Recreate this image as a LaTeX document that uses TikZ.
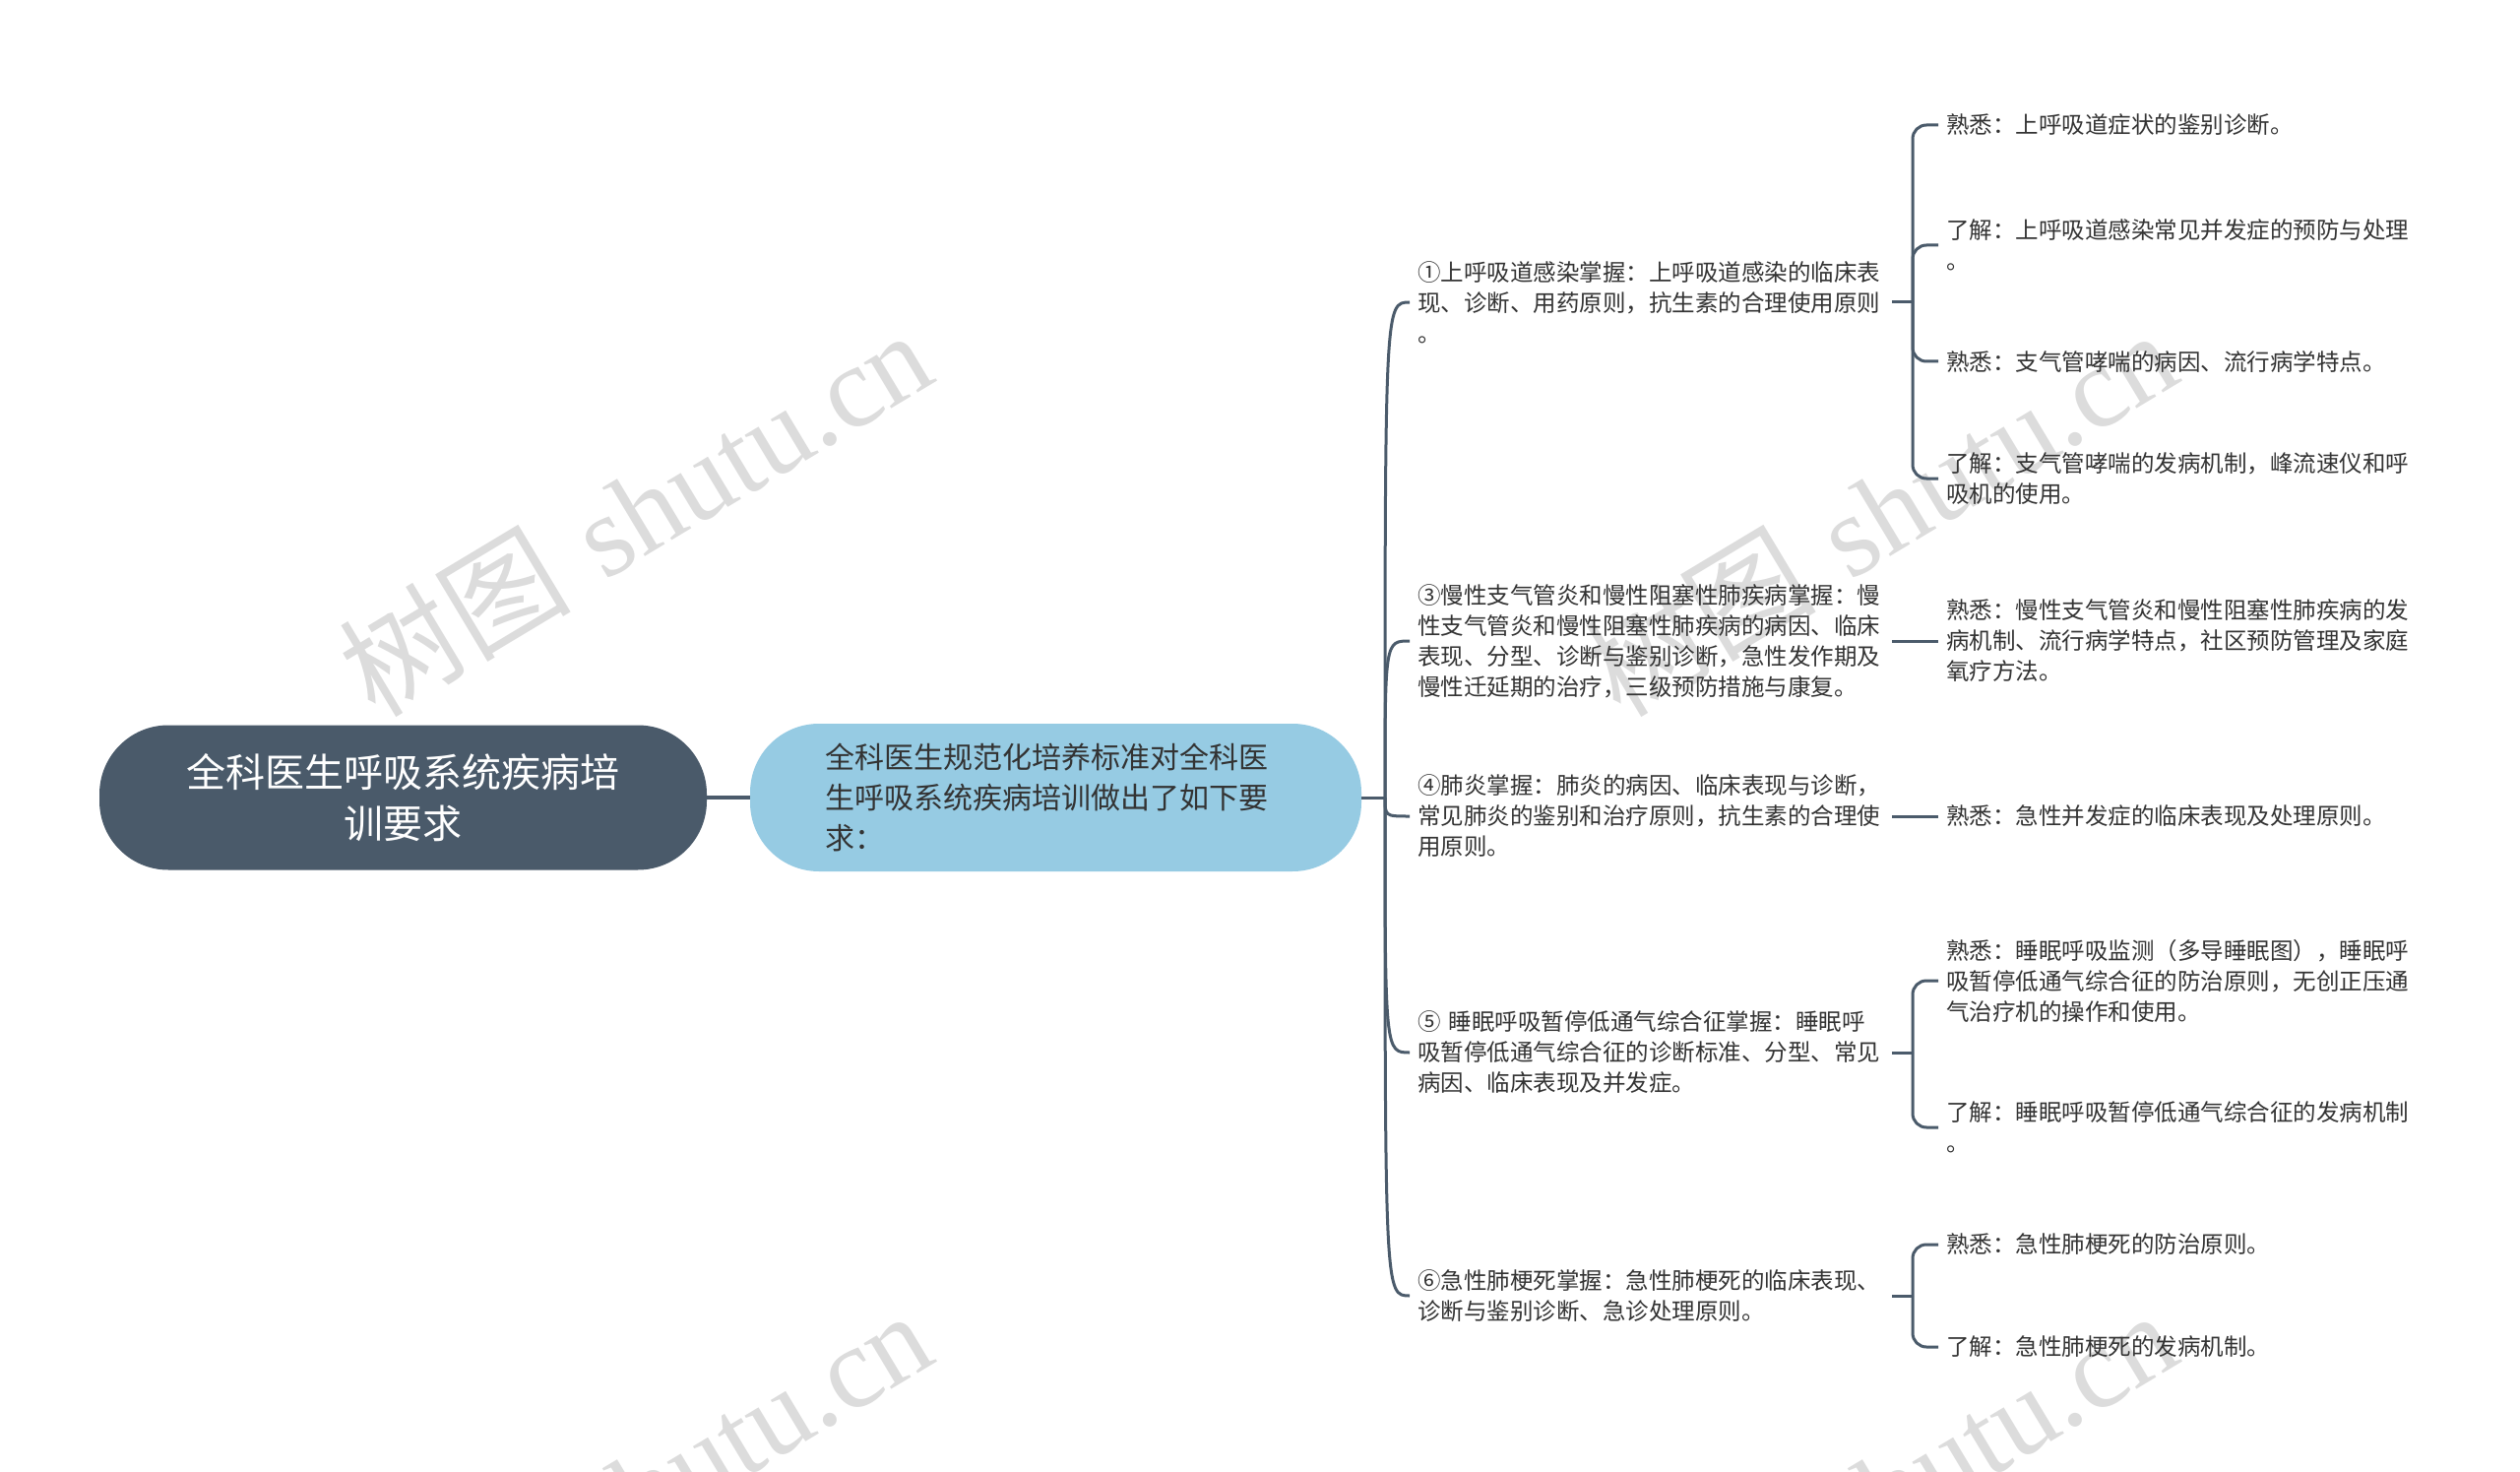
\documentclass[tikz,border=0pt]{standalone}
\usepackage{fontspec}
\newfontfamily\cjk{Noto Sans CJK SC}
\newfontfamily\wmserif{Liberation Serif}
\definecolor{lineC}{HTML}{4B5B6B}
\definecolor{rootC}{HTML}{4A5A6A}
\definecolor{lvOne}{HTML}{96CBE3}
\definecolor{txtC}{HTML}{333333}
\definecolor{wmC}{HTML}{DCDCDC}
\begin{document}
\begin{tikzpicture}[x=1pt,y=-1pt,
  conn/.style={draw=lineC, line width=3pt},
  rootbox/.style={fill=rootC, rounded corners=70pt, minimum width=617pt, minimum height=147pt, text=white, align=center, font=\cjk\fontsize{40}{52}\selectfont, inner sep=0pt},
  onebox/.style={fill=lvOne, rounded corners=70pt, minimum width=621pt, minimum height=150pt, text=txtC, align=left, text width=468pt, font=\cjk\fontsize{30}{41}\selectfont, inner sep=0pt},
  twobox/.style={anchor=west, align=left, text=txtC, font=\cjk\fontsize{23.5}{31}\selectfont, inner xsep=8pt, inner ysep=4pt, text width=474pt},
  threebox/.style={anchor=west, align=left, text=txtC, font=\cjk\fontsize{23.5}{31}\selectfont, inner xsep=8pt, inner ysep=4pt},
  wm/.style={text=wmC, rotate=31, inner sep=0pt, font=\fontsize{118}{118}\selectfont}
]
\clip (0,0) rectangle (2560,1495);
\fill[white] (0,0) rectangle (2560,1495);

% watermarks
\node[wm] (wm1) at (645,520) {{\cjk 树图} {\wmserif shutu.cn}};
\node[wm] (wm2) at (1910,520) {{\cjk 树图} {\wmserif shutu.cn}};
\node[wm] (wm3) at (645,1516) {{\cjk 树图} {\wmserif shutu.cn}};
\node[wm] (wm4) at (1910,1516) {{\cjk 树图} {\wmserif shutu.cn}};

% root and level 1
\node[rootbox] (root) at (409.5,810) {全科医生呼吸系统疾病培\\训要求};
\node[onebox] (L1) at (1072.5,810) {全科医生规范化培养标准对全科医\\生呼吸系统疾病培训做出了如下要\\求：};
\draw[conn, line width=4pt] (root.east) -- (L1.west);

% level 2
\node[twobox] (n1) at (1432,307) {①上呼吸道感染掌握：上呼吸道感染的临床表\\现、诊断、用药原则，抗生素的合理使用原则\\。};
\node[twobox] (n3) at (1432,651) {③慢性支气管炎和慢性阻塞性肺疾病掌握：慢\\性支气管炎和慢性阻塞性肺疾病的病因、临床\\表现、分型、诊断与鉴别诊断，急性发作期及\\慢性迁延期的治疗，三级预防措施与康复。};
\node[twobox] (n4) at (1432,829) {④肺炎掌握：肺炎的病因、临床表现与诊断，\\常见肺炎的鉴别和治疗原则，抗生素的合理使\\用原则。};
\node[twobox] (n5) at (1432,1069) {⑤ 睡眠呼吸暂停低通气综合征掌握：睡眠呼\\吸暂停低通气综合征的诊断标准、分型、常见\\病因、临床表现及并发症。};
\node[twobox] (n6) at (1432,1316) {⑥急性肺梗死掌握：急性肺梗死的临床表现、\\诊断与鉴别诊断、急诊处理原则。};

\coordinate (sp) at (1407,810);
\draw[conn] (L1.east) -- (sp);
\foreach \n in {n1,n3,n4,n5,n6}{
  \draw[conn] (sp) .. controls (sp |- \n.west) and (sp |- \n.west) .. (\n.west);
}

% level 3
\node[threebox] (a1) at (1969,127) {熟悉：上呼吸道症状的鉴别诊断。};
\node[threebox] (a2) at (1969,249) {了解：上呼吸道感染常见并发症的预防与处理\\。};
\node[threebox] (a3) at (1969,367) {熟悉：支气管哮喘的病因、流行病学特点。};
\node[threebox] (a4) at (1969,486) {了解：支气管哮喘的发病机制，峰流速仪和呼\\吸机的使用。};
\node[threebox] (b1) at (1969,651) {熟悉：慢性支气管炎和慢性阻塞性肺疾病的发\\病机制、流行病学特点，社区预防管理及家庭\\氧疗方法。};
\node[threebox] (c1) at (1969,829) {熟悉：急性并发症的临床表现及处理原则。};
\node[threebox] (d1) at (1969,996) {熟悉：睡眠呼吸监测（多导睡眠图），睡眠呼\\吸暂停低通气综合征的防治原则，无创正压通\\气治疗机的操作和使用。};
\node[threebox] (d2) at (1969,1145) {了解：睡眠呼吸暂停低通气综合征的发病机制\\。};
\node[threebox] (e1) at (1969,1264) {熟悉：急性肺梗死的防治原则。};
\node[threebox] (e2) at (1969,1368) {了解：急性肺梗死的发病机制。};

\coordinate (br1) at (1943,307);
\coordinate (br5) at (1943,1069);
\coordinate (br6) at (1943,1316);
\draw[conn] (n1.east) -- (br1);
\foreach \c in {a1,a2,a3,a4}{ \draw[conn, rounded corners=14pt] (br1) |- (\c.west); }
\draw[conn] (n3.east) -- (b1.west);
\draw[conn] (n4.east) -- (c1.west);
\draw[conn] (n5.east) -- (br5);
\foreach \c in {d1,d2}{ \draw[conn, rounded corners=14pt] (br5) |- (\c.west); }
\draw[conn] (n6.east) -- (br6);
\foreach \c in {e1,e2}{ \draw[conn, rounded corners=14pt] (br6) |- (\c.west); }
\end{tikzpicture}
\end{document}
